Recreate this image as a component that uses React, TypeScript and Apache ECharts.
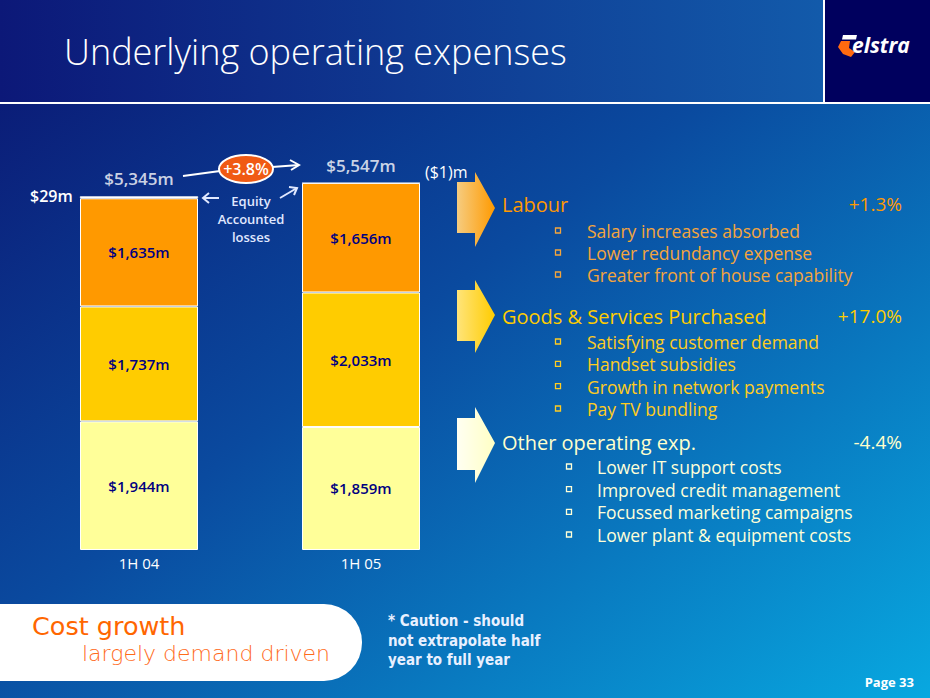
import React, { useEffect, useRef } from "react";
import * as echarts from "echarts";

const categories = ["1H 04", "1H 05"];
const otherOpex = [1944, 1859];
const goodsServices = [1737, 2033];
const labour = [1635, 1656];
const equityLosses = [29, -1];
const totals = [5345, 5547];
const growthLabel = "+3.8%";

const labourNotes = ["Salary increases absorbed", "Lower redundancy expense", "Greater front of house capability"];
const goodsNotes = ["Satisfying customer demand", "Handset subsidies", "Growth in network payments", "Pay TV bundling"];
const otherNotes = ["Lower IT support costs", "Improved credit management", "Focussed marketing campaigns", "Lower plant & equipment costs"];
const groupHeads = [
  { name: "Labour", change: "+1.3%" },
  { name: "Goods & Services Purchased", change: "+17.0%" },
  { name: "Other operating exp.", change: "-4.4%" },
];

const FONT = "'Open Sans', 'Noto Sans', sans-serif";
const DV = "'DejaVu Sans', sans-serif";
const DVC = "'DejaVu Sans Condensed', 'DejaVu Sans', sans-serif";
const fmt = (v: number) => `$${v.toLocaleString("en-US")}m`;

function chevron(top: number, body: [number, number], bottom: number, tipY: number, c1: string, c2: string) {
  return {
    type: "polygon",
    z: 5,
    shape: {
      points: [
        [457, body[0]], [475, body[0]], [475, top], [495, tipY], [475, bottom], [475, body[1]], [457, body[1]],
      ],
    },
    style: { fill: new echarts.graphic.LinearGradient(0, 0, 1, 0, [{ offset: 0, color: c1 }, { offset: 1, color: c2 }]) },
  };
}

function bulletBlock(items: string[], firstY: number, step: number, bx: number, tx: number, color: string) {
  const out: any[] = [];
  items.forEach((_, i) => {
    const y = firstY + i * step;
    out.push({ type: "rect", z: 5, shape: { x: bx - 2.5, y: y - 3, width: 5, height: 5 }, style: { fill: "none", stroke: color, lineWidth: 1.3 } });
  });
  const centre = firstY + ((items.length - 1) * step) / 2;
  out.push({
    type: "text", z: 5, x: tx, y: centre,
    style: { text: items.join("\n"), fill: color, font: `500 17.5px ${FONT}`, lineHeight: step, verticalAlign: "middle" },
  });
  return out;
}

export default function App() {
  const ref = useRef<HTMLDivElement>(null);
  useEffect(() => {
    document.body.style.margin = "0";
    const chart = echarts.init(ref.current!, undefined, { renderer: "svg" });
    const headColors = ["#ff9900", "#ffcc00", "#ffffcc"];
    const headY = [204, 316, 442];
    const graphic: any[] = [
      // header
      { type: "rect", z: 0, shape: { x: 0, y: 0, width: 930, height: 103 }, style: { fill: new echarts.graphic.LinearGradient(0, 0, 1, 0, [{ offset: 0, color: "#0c1878" }, { offset: 1, color: "#1363b1" }]) } },
      { type: "rect", z: 1, shape: { x: 825, y: 0, width: 105, height: 103 }, style: { fill: "#00005e" } },
      { type: "rect", z: 1, shape: { x: 823, y: 0, width: 2, height: 103 }, style: { fill: "#ffffff" } },
      { type: "rect", z: 1, shape: { x: 0, y: 102, width: 930, height: 2 }, style: { fill: "#ffffff" } },
      { type: "text", z: 2, x: 64, y: 51, style: { text: "Underlying operating expenses", fill: "#ffffff", font: `300 36px ${FONT}`, verticalAlign: "middle" } },
      // logo
      { type: "polygon", z: 2, shape: { points: [[843, 35], [857, 35], [856, 39.5], [842, 39.5]] }, style: { fill: "#ffffff" } },
      { type: "polygon", z: 2, shape: { points: [[841, 41], [850, 41], [849, 48], [855, 52], [851, 57], [843, 54], [838, 47]] }, style: { fill: "#ff6a10" } },
      { type: "text", z: 2, x: 852, y: 45, style: { text: "elstra", fill: "#ffffff", font: `italic bold 21px ${FONT}`, verticalAlign: "middle" } },
      // side labels
      { type: "text", z: 5, x: 30, y: 196, style: { text: fmt(equityLosses[0]), fill: "#ffffff", font: `600 16px ${FONT}`, verticalAlign: "middle" } },
      { type: "text", z: 5, x: 425, y: 172, style: { text: `($${Math.abs(equityLosses[1])})m`, fill: "#ffffff", font: `500 16px ${FONT}`, verticalAlign: "middle" } },
      // growth arrows
      { type: "line", z: 5, shape: { x1: 183, y1: 176, x2: 220, y2: 171 }, style: { stroke: "#ffffff", lineWidth: 2 } },
      { type: "line", z: 5, shape: { x1: 272, y1: 167, x2: 299, y2: 165 }, style: { stroke: "#ffffff", lineWidth: 2 } },
      { type: "polyline", z: 5, shape: { points: [[290, 160], [299, 165], [291, 170]] }, style: { stroke: "#ffffff", lineWidth: 2, fill: "none" } },
      { type: "ellipse", z: 6, shape: { cx: 246, cy: 169, rx: 27, ry: 14 }, style: { fill: "#f05a14", stroke: "#ffffff", lineWidth: 2 } },
      { type: "text", z: 7, x: 246, y: 169, style: { text: growthLabel, fill: "#ffffff", font: `600 16px ${FONT}`, align: "center", verticalAlign: "middle" } },
      { type: "line", z: 5, shape: { x1: 219, y1: 198, x2: 203, y2: 198 }, style: { stroke: "#e0e8ff", lineWidth: 2 } },
      { type: "polyline", z: 5, shape: { points: [[209, 193], [203, 198], [209, 203]] }, style: { stroke: "#e0e8ff", lineWidth: 2, fill: "none" } },
      { type: "line", z: 5, shape: { x1: 280, y1: 198, x2: 297, y2: 188 }, style: { stroke: "#e0e8ff", lineWidth: 2 } },
      { type: "polyline", z: 5, shape: { points: [[289, 187], [297, 188], [294, 195]] }, style: { stroke: "#e0e8ff", lineWidth: 2, fill: "none" } },
      { type: "text", z: 5, x: 251, y: 219, style: { text: "Equity\nAccounted\nlosses", fill: "#e0e8ff", font: `600 13px ${FONT}`, lineHeight: 18, align: "center", verticalAlign: "middle" } },
      // chevrons
      chevron(172, [182, 233], 247, 208, "#f6cc80", "#ff9a00"),
      chevron(280, [290, 341], 353, 315, "#ffe47a", "#ffcc00"),
      chevron(407, [418, 470], 483, 443, "#fffff2", "#ffffc4"),
      ...groupHeads.flatMap((g, i) => [
        { type: "text", z: 5, x: 502, y: headY[i], style: { text: g.name, fill: headColors[i], font: `500 20px ${FONT}`, verticalAlign: "middle" } },
        { type: "text", z: 5, x: 902, y: headY[i], style: { text: g.change, fill: headColors[i], font: `500 19px ${FONT}`, align: "right", verticalAlign: "middle" } },
      ]),
      ...bulletBlock(labourNotes, 231, 22, 558, 587, "#f4a53c"),
      ...bulletBlock(goodsNotes, 342, 22.33, 558, 587, "#ffcc22"),
      ...bulletBlock(otherNotes, 467, 22.67, 569, 597, "#ffffd8"),
      // bottom box
      { type: "rect", z: 5, shape: { x: -40, y: 604, width: 402, height: 77, r: 38 }, style: { fill: "#ffffff" } },
      { type: "text", z: 6, x: 32, y: 625.5, style: { text: "Cost growth", fill: "#ff6600", font: `25.5px ${DV}`, verticalAlign: "middle" } },
      { type: "text", z: 6, x: 82, y: 653.5, style: { text: "largely demand driven", fill: "#ff6a1a", font: `200 22px ${DV}`, verticalAlign: "middle" } },
      { type: "text", z: 5, x: 388, y: 640.5, style: { text: "* Caution - should\nnot extrapolate half\nyear to full year", fill: "#e8f0ff", font: `bold 15px ${DVC}`, lineHeight: 19.5, verticalAlign: "middle" } },
      { type: "text", z: 5, x: 914, y: 682, style: { text: "Page 33", fill: "#ffffff", font: `bold 13px ${FONT}`, align: "right", verticalAlign: "middle" } },
    ];

    const segLabel = (color: string) => ({
      show: true,
      position: "inside",
      formatter: (p: any) => fmt(p.value),
      color,
      fontSize: 15,
      fontWeight: 600,
      fontFamily: FONT,
    });
    const itemStyle = (color: string) => ({ color, borderColor: "#ffffff", borderWidth: 1 });

    chart.setOption({
      animation: false,
      backgroundColor: new echarts.graphic.LinearGradient(0, 0, 1, 1, [
        { offset: 0, color: "#0b1470" },
        { offset: 0.45, color: "#0a4a9f" },
        { offset: 1, color: "#08a8e0" },
      ]),
      grid: { left: 28, width: 444, top: 153, bottom: 148 },
      xAxis: {
        type: "category",
        data: categories,
        axisLine: { show: false },
        axisTick: { show: false },
        axisLabel: { color: "#ffffff", fontSize: 15, fontFamily: FONT, margin: 5 },
      },
      yAxis: { type: "value", min: 0, max: 6000, show: false, splitLine: { show: false } },
      series: [
        { type: "bar", name: "Other operating exp.", stack: "t", stackStrategy: "all", barWidth: 118, data: otherOpex, itemStyle: itemStyle("#ffff99"), label: segLabel("#000080") },
        { type: "bar", name: "Goods & Services", stack: "t", stackStrategy: "all", data: goodsServices, itemStyle: itemStyle("#ffcc00"), label: segLabel("#000080") },
        { type: "bar", name: "Labour", stack: "t", stackStrategy: "all", data: labour, itemStyle: itemStyle("#ff9900"), label: segLabel("#000080") },
        { type: "bar", name: "Equity accounted", stack: "t", stackStrategy: "all", data: equityLosses, itemStyle: { color: "#ffffff", borderColor: "#ffffff", borderWidth: 0.5 } },
        {
          type: "scatter",
          name: "Total",
          data: totals,
          symbolSize: 0,
          label: { show: true, position: "top", distance: 9, formatter: (p: any) => fmt(p.value), color: "#ffffff", fontSize: 17, fontWeight: 600, fontFamily: FONT },
        },
      ],
      graphic,
    });
    return () => chart.dispose();
  }, []);
  return <div ref={ref} style={{ width: 930, height: 698 }} />;
}
